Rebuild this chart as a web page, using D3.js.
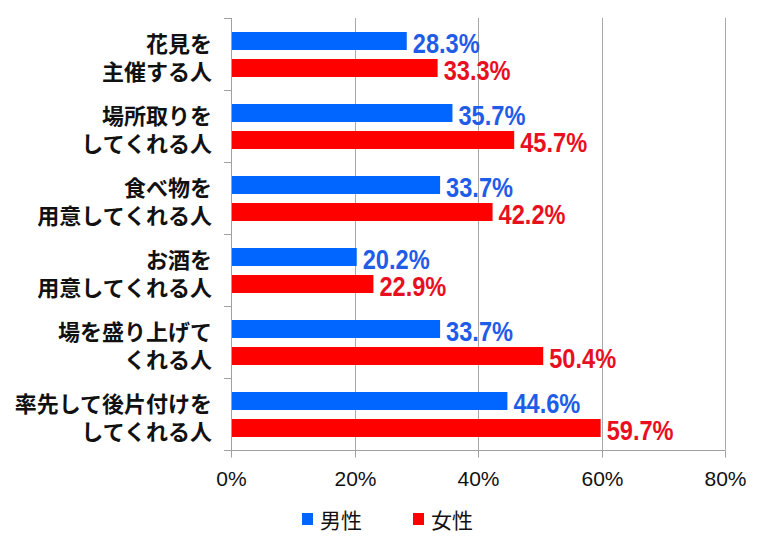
<!DOCTYPE html>
<html><head><meta charset="utf-8">
<script src="https://cdn.jsdelivr.net/npm/d3@7"></script>
<style>body{margin:0;background:#fff}svg{display:block}</style>
</head><body>
<svg id="c" width="766" height="542"></svg>
<script>
const categories = [
  ["花見を","主催する人"],
  ["場所取りを","してくれる人"],
  ["食べ物を","用意してくれる人"],
  ["お酒を","用意してくれる人"],
  ["場を盛り上げて","くれる人"],
  ["率先して後片付けを","してくれる人"]
];
const seriesNames = ["男性","女性"];
const maleValues = [28.3, 35.7, 33.7, 20.2, 33.7, 44.6];
const femaleValues = [33.3, 45.7, 42.2, 22.9, 50.4, 59.7];
const xTicks = [0, 20, 40, 60, 80];

const barColors = ["#0066ff", "#ff0000"];
const labelColors = ["#1f5ce8", "#e8101e"];

const svg = d3.select("#c");
const pLeft = 231, pRight = 725, pTop = 18, pBottom = 450;
const x = d3.scaleLinear().domain([0, 80]).range([pLeft, pRight]);
const y = d3.scaleBand().domain(d3.range(categories.length)).range([pTop, pBottom]);

// gridlines
svg.append("g").selectAll("line").data(xTicks.slice(1)).join("line")
  .attr("x1", d => Math.round(x(d))+0.5).attr("x2", d => Math.round(x(d))+0.5)
  .attr("y1", pTop).attr("y2", pBottom)
  .attr("stroke", "#a8a8a8").attr("stroke-width", 1);

// x axis
const xAxis = d3.axisBottom(x).tickValues(xTicks).tickFormat(d => d + "%").tickSize(7).tickPadding(12);
const gx = svg.append("g").attr("transform", `translate(0,${pBottom+0.5})`).call(xAxis);
gx.select(".domain").attr("stroke", "#a0a0a0").attr("d", `M${pLeft-7},0H${pRight+0.5}`);
gx.selectAll(".tick").attr("transform", d => `translate(${Math.round(x(d))+0.5},0)`);
gx.selectAll(".tick line").attr("stroke", "#a0a0a0");
gx.selectAll(".tick text").attr("font-family", "Liberation Sans, Arial, sans-serif")
  .attr("font-size", 21).attr("fill", "#111").attr("dy", "0.8em");

// y axis (boundaries)
const bounds = d3.range(categories.length + 1).map(i => pTop + i * y.step());
svg.append("line").attr("x1", pLeft+0.5).attr("x2", pLeft+0.5).attr("y1", pTop).attr("y2", pBottom)
  .attr("stroke", "#a0a0a0");
svg.append("g").selectAll("line").data(bounds).join("line")
  .attr("x1", pLeft - 7).attr("x2", pLeft).attr("y1", d => Math.round(d)+0.5).attr("y2", d => Math.round(d)+0.5)
  .attr("stroke", "#a0a0a0");

// bars
const series = [maleValues, femaleValues];
const barH = 18, offsets = [14, 41];
series.forEach((vals, s) => {
  const g = svg.append("g");
  g.selectAll("rect").data(vals).join("rect")
    .attr("x", x(0) + 1).attr("y", (d, i) => y(i) + offsets[s])
    .attr("width", d => x(d) - x(0)).attr("height", barH)
    .attr("fill", barColors[s]);
  g.selectAll("text").data(vals).join("text")
    .attr("transform", (d, i) => `translate(${x(d) + 7},${y(i) + offsets[s] + 20.5}) scale(0.875,1)`)
    .attr("font-family", "Liberation Sans, Arial, sans-serif")
    .attr("font-weight", "bold").attr("font-size", 27).attr("fill", labelColors[s])
    .text(d => d.toFixed(1) + "%");
});

// category labels
const cg = svg.append("g");
categories.forEach((lines, i) => {
  const cy = y(i) + y.bandwidth()/2 + 2;
  lines.forEach((t, j) => {
    cg.append("text").attr("x", 212).attr("y", cy + (j - 0.5) * 27.5)
      .attr("text-anchor", "end").attr("dominant-baseline", "central")
      .attr("font-family", "Noto Sans CJK JP, sans-serif").attr("font-weight", "bold")
      .attr("font-size", 22).attr("fill", "#111").text(t);
  });
});

// legend
const lg = svg.append("g");
const legendX = [302, 413];
seriesNames.forEach((n, s) => {
  lg.append("rect").attr("x", legendX[s]).attr("y", 513).attr("width", 11).attr("height", 12).attr("fill", barColors[s]);
  lg.append("text").attr("x", legendX[s] + 18).attr("y", 519).attr("dominant-baseline", "central")
    .attr("font-family", "Noto Sans CJK JP, sans-serif").attr("font-size", 21).attr("fill", "#111").text(n);
});
</script>
</body></html>
